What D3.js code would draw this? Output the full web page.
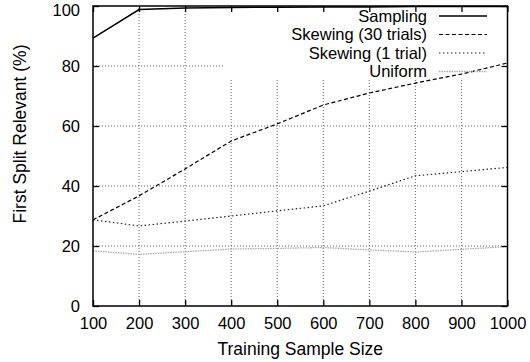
<!DOCTYPE html>
<html>
<head>
<meta charset="utf-8">
<script src="https://cdn.jsdelivr.net/npm/d3@7"></script>
<style>
  html, body { margin: 0; padding: 0; background: #fff; }
  svg { display: block; font-family: "Liberation Sans", Arial, Helvetica, sans-serif; }
</style>
</head>
<body>
<svg id="chart" width="530" height="362"></svg>
<script>
// Training sample sizes (x values)
const sampleSizes = [100, 200, 300, 400, 500, 600, 700, 800, 900, 1000];

// Percentage of runs where the first split is on a relevant attribute
const sampling   = [89.3, 98.8, 99.3, 99.5, 99.6, 99.7, 99.7, 99.8, 99.8, 99.8];
const skewing30  = [28.7, 36.7, 45.7, 55.0, 60.7, 67.0, 71.0, 74.3, 77.3, 81.0];
const skewing1   = [28.7, 26.7, 28.3, 30.0, 31.7, 33.4, 38.3, 43.4, 44.8, 46.2];
const uniform    = [18.4, 17.2, 18.1, 19.0, 19.2, 19.5, 18.7, 18.0, 18.9, 19.8];

const seriesNames = ["Sampling", "Skewing (30 trials)", "Skewing (1 trial)", "Uniform"];
const xTicks = [100, 200, 300, 400, 500, 600, 700, 800, 900, 1000];
const yTicks = [0, 20, 40, 60, 80, 100];

const seriesStyles = [
  { stroke: "#000", width: 1.5, dash: null },
  { stroke: "#000", width: 1.2, dash: "4,2.5" },
  { stroke: "#222", width: 1.2, dash: "1.5,2.5" },
  { stroke: "#aaa", width: 1.3, dash: "1.5,1" }
];
const seriesValues = [sampling, skewing30, skewing1, uniform];

const margin = { left: 93, right: 22.5, top: 6, bottom: 56 };
const W = 530, H = 362;
const svg = d3.select("#chart");

const x = d3.scaleLinear().domain([100, 1000]).range([margin.left, W - margin.right]);
const y = d3.scaleLinear().domain([0, 100]).range([H - margin.bottom, margin.top]);

const tickFont = 16.5;
const titleFont = 17.5;
const keyFont = 16.5;

// Grid (dotted), interior lines only
const grid = svg.append("g");
grid.selectAll("line.vg")
  .data(xTicks.slice(1, -1))
  .join("line")
  .attr("x1", d => x(d)).attr("x2", d => x(d))
  .attr("y1", y(0)).attr("y2", y(100))
  .attr("stroke", "#666").attr("stroke-width", 1).attr("stroke-dasharray", "1,2");
grid.selectAll("line.hg")
  .data(yTicks.slice(1, -1))
  .join("line")
  .attr("x1", x(100)).attr("x2", x(1000))
  .attr("y1", d => y(d)).attr("y2", d => y(d))
  .attr("stroke", "#666").attr("stroke-width", 1).attr("stroke-dasharray", "1,2");

// Key area hides the grid behind it
const keyBox = { x0: 224, y0: y(100), x1: x(1000), y1: 80 };
svg.append("rect")
  .attr("x", keyBox.x0).attr("y", keyBox.y0)
  .attr("width", keyBox.x1 - keyBox.x0).attr("height", keyBox.y1 - keyBox.y0)
  .attr("fill", "#fff");

// Data lines
const line = d3.line()
  .x((d, i) => x(sampleSizes[i]))
  .y(d => y(d));

const lines = svg.append("g");
seriesValues.forEach((vals, k) => {
  const st = seriesStyles[k];
  lines.append("path")
    .datum(vals)
    .attr("d", line)
    .attr("fill", "none")
    .attr("stroke", st.stroke)
    .attr("stroke-width", st.width)
    .attr("stroke-dasharray", st.dash);
});

// Axes: ticks inward on all four sides
const tickLen = 6;
const bottomAxis = d3.axisBottom(x).tickValues(xTicks).tickSize(-tickLen).tickPadding(11).tickFormat(d3.format("d"));
const topAxis = d3.axisTop(x).tickValues(xTicks).tickSize(-tickLen).tickFormat("");
const leftAxis = d3.axisLeft(y).tickValues(yTicks).tickSize(-tickLen).tickPadding(13).tickFormat(d3.format("d"));
const rightAxis = d3.axisRight(y).tickValues(yTicks).tickSize(-tickLen).tickFormat("");

function styleAxis(g) {
  g.select(".domain").remove();
  g.selectAll(".tick line").attr("stroke", "#000").attr("stroke-width", 1.3);
  g.selectAll(".tick text").attr("fill", "#000").attr("font-size", tickFont).attr("font-family", null);
  g.attr("font-family", null);
}

svg.append("g").attr("transform", `translate(0,${y(0)})`).call(bottomAxis).call(styleAxis);
svg.append("g").attr("transform", `translate(0,${y(100)})`).call(topAxis).call(styleAxis);
const leftG = svg.append("g").attr("transform", `translate(${x(100)},0)`).call(leftAxis).call(styleAxis);
svg.append("g").attr("transform", `translate(${x(1000)},0)`).call(rightAxis).call(styleAxis);

// keep the topmost y label inside the canvas
leftG.selectAll(".tick text").filter(d => d === 100).attr("dy", "9px");

// Frame
svg.append("rect")
  .attr("x", x(100)).attr("y", y(100))
  .attr("width", x(1000) - x(100)).attr("height", y(0) - y(100))
  .attr("fill", "none").attr("stroke", "#000").attr("stroke-width", 1.5);

// Axis titles
svg.append("text")
  .attr("x", (x(100) + x(1000)) / 2).attr("y", 355)
  .attr("text-anchor", "middle").attr("font-size", titleFont)
  .text("Training Sample Size");

svg.append("text")
  .attr("transform", `translate(26,134) rotate(-90)`)
  .attr("text-anchor", "middle").attr("font-size", titleFont)
  .text("First Split Relevant (%)");

// Key
const key = svg.append("g");
const keyRowY = d3.scalePoint().domain(seriesNames).range([16, 71.5]);
seriesNames.forEach((name, k) => {
  const st = seriesStyles[k];
  const ry = keyRowY(name);
  key.append("text")
    .attr("x", 427).attr("y", ry + 5.8)
    .attr("text-anchor", "end").attr("font-size", keyFont)
    .text(name);
  key.append("line")
    .attr("x1", 439).attr("x2", 487)
    .attr("y1", ry).attr("y2", ry)
    .attr("stroke", st.stroke).attr("stroke-width", st.width)
    .attr("stroke-dasharray", st.dash);
});
</script>
</body>
</html>
